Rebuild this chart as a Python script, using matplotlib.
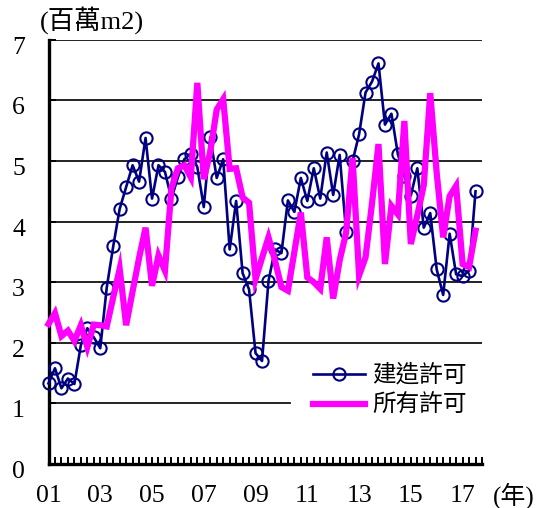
import matplotlib
matplotlib.use("Agg")
import matplotlib.pyplot as plt
from matplotlib.font_manager import FontProperties
from matplotlib.lines import Line2D
from matplotlib.transforms import ScaledTranslation

plt.rcParams['font.family'] = ['Liberation Serif', 'Noto Sans CJK TC']

# Quarterly series, 2001 Q1 - 2017 Q3 (million m2)
building_permits = [
    1.33, 1.58, 1.25, 1.41, 1.32, 1.96, 2.24, 2.09, 1.91, 2.91,
    3.59, 4.21, 4.57, 4.93, 4.66, 5.38, 4.38, 4.93, 4.82, 4.38,
    4.73, 5.03, 5.12, 4.90, 4.24, 5.39, 4.72, 5.03, 3.54, 4.34,
    3.15, 2.88, 1.83, 1.70, 3.02, 3.54, 3.48, 4.35, 4.16, 4.72,
    4.34, 4.88, 4.38, 5.14, 4.44, 5.10, 3.83, 5.00, 5.44, 6.13,
    6.31, 6.61, 5.60, 5.78, 5.11, 4.75, 4.43, 4.88, 3.90, 4.14,
    3.21, 2.79, 3.80, 3.13, 3.10, 3.19, 4.50,
]
all_permits = [
    2.31, 2.49, 2.11, 2.20, 2.03, 2.29, 1.93, 2.30, 2.29, 2.27,
    2.75, 3.22, 2.29, 2.85, 3.40, 3.90, 2.94, 3.44, 3.19, 4.55,
    4.88, 4.93, 4.73, 6.29, 4.70, 5.15, 5.85, 6.02, 4.87, 4.88,
    4.40, 4.31, 3.05, 3.40, 3.74, 3.36, 2.92, 2.86, 3.50, 4.15,
    3.08, 3.00, 2.89, 3.74, 2.73, 3.36, 3.82, 5.05, 3.11, 3.41,
    4.30, 5.28, 3.30, 4.26, 4.12, 5.66, 3.63, 4.10, 4.60, 6.12,
    4.80, 3.74, 4.42, 4.59, 3.30, 3.25, 3.85,
]
series_names = ['建造許可', '所有許可']
year_labels = ['01', '03', '05', '07', '09', '11', '13', '15', '17']
y_ticks = [0, 1, 2, 3, 4, 5, 6, 7]

n_slots = 68  # quarters on the category axis (2001 Q1 - 2017 Q4)

W, H = 541, 508
ax_left, ax_right = 48.5, 482
fig = plt.figure(figsize=(W / 100, H / 100), dpi=100)
ax = fig.add_axes([ax_left / W, (H - 464) / H, (ax_right - ax_left) / W, (464 - 39.8) / H])

x = list(range(len(building_permits)))
navy = '#000080'
magenta = '#FF00FF'

ax.plot(x, building_permits, color=navy, lw=1.9, marker='o', ms=8.8,
        mfc='none', mec=navy, mew=1.5, zorder=3, clip_on=False)
ax.plot(x, all_permits, color=magenta, lw=4.5, solid_joinstyle='miter',
        zorder=4, clip_on=False)

ax.set_xlim(0, n_slots - 1)
ax.set_ylim(0, 7)

# horizontal gridlines; the lowest one stops where the legend box begins
legend_box_left = (290 - ax_left) / (ax_right - ax_left)
for v in y_ticks[1:]:
    ax.axhline(v, xmin=0, xmax=legend_box_left if v == 1 else 1,
               color='#111111', lw=1.3, zorder=1)

ax.set_yticks(y_ticks)
ax.set_yticklabels([str(v) for v in y_ticks])

# x axis: one tick per quarter, labels every two years
ax.set_xticks([i * 8 for i in range(len(year_labels))])
ax.set_xticklabels(year_labels)
ax.set_xticks(list(range(n_slots)), minor=True)

for s in ('top', 'right'):
    ax.spines[s].set_visible(False)
for s in ('left', 'bottom'):
    ax.spines[s].set_linewidth(2.4)
    ax.spines[s].set_color('black')

ax.tick_params(axis='x', which='both', direction='in', length=5, width=1.4,
               color='black', labelsize=18.5, pad=15)
ax.tick_params(axis='y', which='both', direction='in', length=5, width=1.4,
               color='black', labelsize=18.5, pad=17)

off = ScaledTranslation(0, -4 / 72, fig.dpi_scale_trans)
for lab in ax.get_yticklabels():
    lab.set_transform(lab.get_transform() + off)

fig.text(40 / W, 1 - 20 / H, '(百萬m2)', fontsize=19, ha='left', va='center')
fig.text(493 / W, 1 - 496 / H, '(年)', fontsize=18, ha='left', va='center')

handles = [
    Line2D([], [], color=navy, lw=1.9, marker='o', ms=8.8, mfc='none',
           mec=navy, mew=1.5),
    Line2D([], [], color=magenta, lw=4.5),
]
ax.legend(handles, series_names, loc='upper left',
          bbox_to_anchor=(301 / W, 1 - 352 / H), bbox_transform=fig.transFigure,
          frameon=False,
          prop=FontProperties(family='Noto Sans CJK TC', size=17),
          handlelength=2.2, handletextpad=0.3, labelspacing=0.3,
          borderpad=0.5, borderaxespad=0)

fig.savefig('out.png', dpi=100)
